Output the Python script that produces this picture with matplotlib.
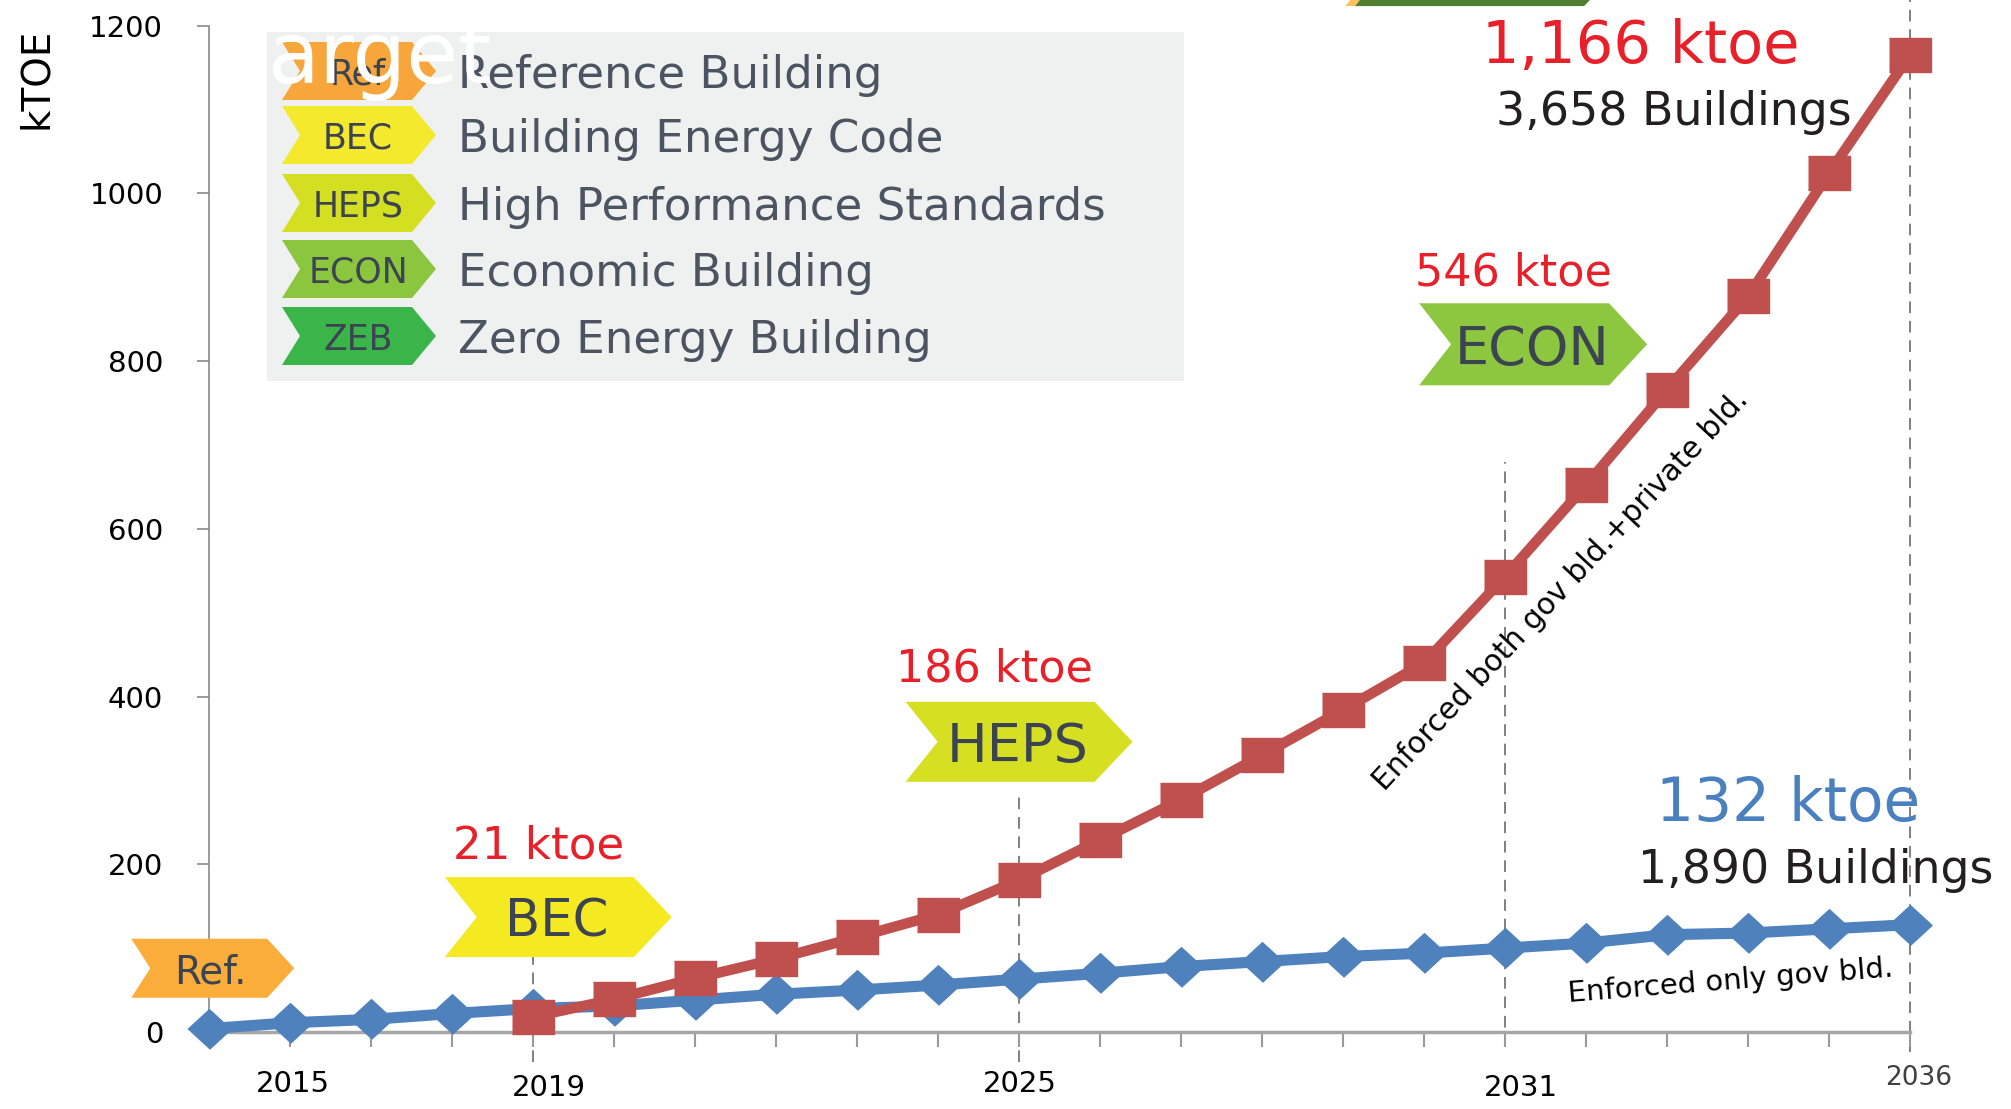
import matplotlib
matplotlib.use('Agg')
import matplotlib.pyplot as plt
from matplotlib.patches import Polygon, Rectangle
import matplotlib.transforms as mtransforms

# values (kTOE)
years = list(range(2015, 2037))
gov_only = [4, 11, 15, 22, 28, 31, 38, 45, 50, 56, 63, 70, 78, 84, 90, 94,
            100, 106, 116, 118, 123, 128]
ref_years = [2015, 2016, 2017, 2018]
ref_level = [0, 0, 0, 0]
both_years = list(range(2019, 2037))
gov_private = [18, 39, 64, 87, 113, 140, 181, 229, 277, 330, 384, 440,
               543, 652, 766, 877, 1024, 1165]

ytick_vals = [0, 200, 400, 600, 800, 1000, 1200]
xtick_labels = ['2015', '2019', '2025', '2031', '2036']
guide_years = [2019, 2025, 2031, 2036]
legend_codes = ['Ref', 'BEC', 'HEPS', 'ECON', 'ZEB']
legend_names = ['Reference Building', 'Building Energy Code',
                'High Performance Standards', 'Economic Building',
                'Zero Energy Building']

RED = '#c0504d'
BLUE = '#4f81bd'
RED_TXT = '#e8202a'
BLUE_TXT = '#4a7fc0'
TAG_TXT = '#3c4452'
LEG_TXT = '#4d5461'

W, H = 2011, 1109
fig = plt.figure(figsize=(W / 100, H / 100), dpi=100)
ax = fig.add_axes([209 / W, 1 - 1032 / H, 1782 / W, 1006.4 / H])
ax.set_xlim(2015, 2037)
ax.set_ylim(0, 1200)

rect_marker = [(-0.6, -0.5), (0.6, -0.5), (0.6, 0.5), (-0.6, 0.5)]
diam_marker = [(-1, 0), (0, 0.92), (1, 0), (0, -0.92)]

ax.plot(ref_years, ref_level, color=RED, lw=2, zorder=2, clip_on=False)
ax.plot(years, gov_only, color=BLUE, lw=8, marker=diam_marker, ms=31,
        zorder=3, clip_on=False)
ax.plot(both_years, gov_private, color=RED, lw=7.5, marker=rect_marker,
        ms=30, zorder=4, clip_on=False)

# dashed guides
guide_top = [100, 286, 680, 1260]
guide_bot = [-36, -36, -18, -24]
for gx, gt, gb in zip(guide_years, guide_top, guide_bot):
    ax.plot([gx, gx], [gb, gt], color='#7f7f7f', lw=1.4,
            linestyle=(0, (6, 4)), zorder=1, clip_on=False)

# axes styling
for s in ['top', 'right']:
    ax.spines[s].set_visible(False)
ax.spines['left'].set_color('#8a8a8a')
ax.spines['left'].set_linewidth(1.2)
ax.spines['bottom'].set_color('#a6a6a6')
ax.spines['bottom'].set_linewidth(2.5)
ax.spines['bottom'].set_bounds(2015, 2036)
ax.set_yticks(ytick_vals)
ax.tick_params(axis='y', length=9, width=1.2, color='#8a8a8a', pad=24,
               labelsize=21)
ax.set_xticks(years[1:])
ax.set_xticklabels([])
ax.tick_params(axis='x', length=11, width=1.5, color='#9a9a9a')

xlab_x = [2016.04, 2019.19, 2025.01, 2031.2, 2036.11]
xlab_y = [-62, -67, -62, -67, -55]
for lab, lx, ly in zip(xtick_labels, xlab_x, xlab_y):
    ax.text(lx, ly, lab, ha='center', va='center',
            fontsize=19 if lab == '2036' else 21,
            color='#404040' if lab == '2036' else 'black', clip_on=False)

ax.text(-0.097, 0.948, 'kTOE', transform=ax.transAxes, rotation=90,
        ha='center', va='center', fontsize=28)


def chevron(host, x0, y0, trans, w, h, notch, point, color, label=None,
            fs=25, tcolor=TAG_TXT, z=5):
    verts = [(0, -h / 2), (w - point, -h / 2), (w, 0), (w - point, h / 2),
             (0, h / 2), (notch, 0)]
    tr = (mtransforms.Affine2D().scale(0.01) + fig.dpi_scale_trans
          + mtransforms.ScaledTranslation(x0, y0, trans))
    poly = Polygon(verts, closed=True, facecolor=color, edgecolor='none',
                   transform=tr, zorder=z, clip_on=False)
    host.add_artist(poly)
    if label:
        ttr = mtransforms.offset_copy(trans, fig=fig,
                                      x=(notch + w - point) / 2 + 2, y=0,
                                      units='dots')
        host.text(x0, y0, label, transform=ttr, ha='center',
                  va='center_baseline', fontsize=fs, color=tcolor,
                  zorder=z + 1, clip_on=False)


# tags on the chart (anchored in data coords)
chevron(ax, 2014.04, 76, ax.transData, 163, 59, 19, 27, '#fbad3c', 'Ref.', 28)
chevron(ax, 2017.91, 137, ax.transData, 227, 80, 32, 38, '#f5ea22', 'BEC', 37)
chevron(ax, 2023.60, 346, ax.transData, 227, 80, 32, 38, '#d7df23', 'HEPS', 39)
chevron(ax, 2029.94, 820, ax.transData, 228, 82, 32, 38, '#8dc63f', 'ECON', 39)
# cut-off ZEB tag at the very top
chevron(ax, 2029.03, 1271, ax.transData, 267, 80, 32, 38, '#fbc060')
chevron(ax, 2029.15, 1271, ax.transData, 267, 80, 32, 38, '#507e32', 'ZEB',
        39, tcolor='white')

# legend box (figure pixels)
fig.add_artist(Rectangle((267 / W, 1 - 381 / H), (1184 - 267) / W,
                         (381 - 32) / H, transform=fig.transFigure,
                         facecolor='#eff0f0', edgecolor='none', zorder=3))
leg_colors = ['#f7a63b', '#f4e92c', '#d5df22', '#8cc63f', '#39b54a']
leg_rows = [71, 135, 203, 269, 336]
for code, name, col, ry in zip(legend_codes, legend_names, leg_colors,
                               leg_rows):
    chevron(fig, 282 / W, 1 - ry / H, fig.transFigure, 154, 58, 18, 24, col,
            code, 25, z=6)
    fig.text(458 / W, 1 - ry / H, name, ha='left', va='center_baseline',
             fontsize=32.5, color=LEG_TXT, zorder=7)

fig.text(268 / W, 1 - 83 / H, 'arget', color='white', fontsize=61,
         ha='left', va='baseline', zorder=20)

# value annotations
ax.text(2019.07, 222, '21 ktoe', color=RED_TXT, fontsize=32.5,
        ha='center', va='center')
ax.text(2024.70, 433, '186 ktoe', color=RED_TXT, fontsize=32,
        ha='center', va='center')
ax.text(2031.11, 905, '546 ktoe', color=RED_TXT, fontsize=32,
        ha='center', va='center')
ax.text(2032.68, 1175, '1,166 ktoe', color=RED_TXT, fontsize=42.5,
        ha='center', va='center', clip_on=False)
ax.text(2033.09, 1096, '3,658 Buildings', color='#231f20', fontsize=33,
        ha='center', va='center')
ax.text(2034.49, 271, '132 ktoe', color=BLUE_TXT, fontsize=43,
        ha='center', va='center')
ax.text(2034.84, 193, '1,890 Buildings', color='#231f20', fontsize=33,
        ha='center', va='center', clip_on=False)
ax.text(2033.78, 61, 'Enforced only gov bld.', fontsize=21, rotation=4.5,
        rotation_mode='anchor', ha='center', va='center')
ax.text(2031.69, 527, 'Enforced both gov bld.+private bld.', fontsize=21.5,
        rotation=47, rotation_mode='anchor', ha='center', va='center')

fig.savefig('out.png', dpi=100)
